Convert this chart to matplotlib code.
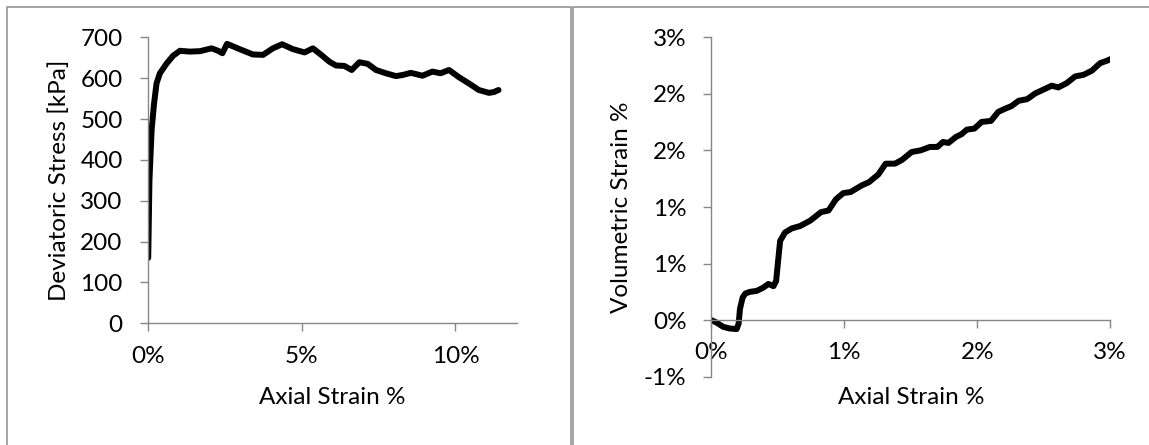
import matplotlib
matplotlib.use("Agg")
import matplotlib.pyplot as plt
from matplotlib.patches import Rectangle
from matplotlib.ticker import FixedLocator, FixedFormatter

# --- Deviatoric stress against axial strain (strain in %) ---
dev_axial_pct = [0.02, 0.06, 0.13, 0.21, 0.29, 0.40, 0.62, 0.83, 1.05,
                 1.37, 1.70, 2.08, 2.29, 2.43, 2.58, 2.99, 3.42, 3.75, 4.07,
                 4.37, 4.72, 5.10, 5.37, 5.64, 5.91, 6.12, 6.39, 6.63, 6.88,
                 7.15, 7.42, 7.74, 8.07, 8.30, 8.55, 8.93, 9.25, 9.52, 9.79,
                 10.12, 10.44, 10.76, 11.09, 11.25, 11.40]
dev_stress_kpa = [160, 350, 473, 538, 587, 612, 636, 655, 667,
                  665, 666, 673, 667, 661, 684, 671, 658, 657, 673,
                  683, 671, 663, 673, 657, 640, 631, 630, 620, 639,
                  635, 620, 612, 605, 608, 613, 606, 616, 612, 620,
                  602, 587, 571, 564, 566, 571]

# --- Volumetric strain against axial strain (both in %) ---
vol_axial_pct = [0.0, 0.038, 0.088, 0.138, 0.19, 0.205, 0.215, 0.235, 0.256,
                 0.29, 0.34, 0.39, 0.429, 0.467, 0.487, 0.504, 0.517, 0.554,
                 0.605, 0.668, 0.744, 0.825, 0.881, 0.936, 0.992, 1.047,
                 1.131, 1.186, 1.256, 1.311, 1.381, 1.436, 1.506, 1.575,
                 1.644, 1.700, 1.742, 1.783, 1.839, 1.881, 1.922, 1.978,
                 2.033, 2.103, 2.158, 2.214, 2.256, 2.311, 2.375, 2.436,
                 2.56, 2.61, 2.673, 2.736, 2.80, 2.862, 2.925, 2.976, 3.019]
vol_strain_pct = [0.0, -0.021, -0.059, -0.074, -0.079, -0.03, 0.10, 0.20, 0.236,
                  0.250, 0.258, 0.287, 0.320, 0.300, 0.347, 0.55, 0.70, 0.775,
                  0.811, 0.832, 0.880, 0.955, 0.969, 1.067, 1.123, 1.132,
                  1.191, 1.220, 1.288, 1.383, 1.383, 1.418, 1.486, 1.501,
                  1.531, 1.531, 1.575, 1.566, 1.619, 1.643, 1.684, 1.693,
                  1.752, 1.761, 1.841, 1.871, 1.891, 1.939, 1.953, 2.004,
                  2.072, 2.057, 2.095, 2.154, 2.169, 2.205, 2.272, 2.293, 2.316]

# --- Axis ticks and labels ---
dev_xticks = [0, 5, 10]
dev_xticklabels = ["0%", "5%", "10%"]
dev_yticks = [0, 100, 200, 300, 400, 500, 600, 700]
dev_yticklabels = ["0", "100", "200", "300", "400", "500", "600", "700"]
vol_xticks = [0, 1, 2, 3]
vol_xticklabels = ["0%", "1%", "2%", "3%"]
vol_yticks = [-0.5, 0.0, 0.5, 1.0, 1.5, 2.0, 2.5]
vol_yticklabels = ["-1%", "0%", "1%", "1%", "2%", "2%", "3%"]

W, H = 1149, 445
AXIS_GREY = "#868686"
BORDER_GREY = "#8c8c8c"
FONT_SIZE = 17.5

plt.rcParams["font.family"] = ["Lato", "DejaVu Sans"]
fig = plt.figure(figsize=(W / 100, H / 100), dpi=100)
fig.patch.set_facecolor("white")


def px_box(x0, y0, x1, y1):
    """Pixel box measured from the top-left corner -> figure fraction."""
    return [x0 / W, 1 - y1 / H, (x1 - x0) / W, (y1 - y0) / H]


def fpt(x, y):
    return x / W, 1 - y / H


# chart area frames
for (x0, x1) in [(7, 571), (572.5, 1160)]:
    fx, fy = fpt(x0, 470)
    fig.add_artist(Rectangle((fx, fy), (x1 - x0) / W, (470 - 7) / H,
                             transform=fig.transFigure, fill=False,
                             edgecolor=BORDER_GREY, linewidth=1.1,
                             clip_on=False))


def style_axes(ax):
    for side in ("top", "right"):
        ax.spines[side].set_visible(False)
    for side in ("left", "bottom"):
        ax.spines[side].set_color(AXIS_GREY)
        ax.spines[side].set_linewidth(1.0)
    ax.tick_params(axis="both", direction="out", length=6, width=1.0,
                   color=AXIS_GREY, labelcolor="black", labelsize=FONT_SIZE)
    ax.tick_params(axis="y", pad=12)
    ax.tick_params(axis="x", pad=10)
    ax.set_facecolor("none")


line_kw = dict(color="black", linewidth=4.3, solid_capstyle="round",
               solid_joinstyle="round")

# left: deviatoric stress
ax1 = fig.add_axes(px_box(147.6, 37.3, 517, 323.3))
ax1.plot(dev_axial_pct, dev_stress_kpa, **line_kw)
ax1.set_xlim(0, 12)
ax1.set_ylim(0, 700)
ax1.xaxis.set_major_locator(FixedLocator(dev_xticks))
ax1.xaxis.set_major_formatter(FixedFormatter(dev_xticklabels))
ax1.yaxis.set_major_locator(FixedLocator(dev_yticks))
ax1.yaxis.set_major_formatter(FixedFormatter(dev_yticklabels))
style_axes(ax1)
ax1.set_xlabel("Axial Strain %", fontsize=FONT_SIZE)
ax1.set_ylabel("Deviatoric Stress [kPa]", fontsize=FONT_SIZE)
ax1.xaxis.set_label_coords(*fpt(332.3, 397), transform=fig.transFigure)
ax1.yaxis.set_label_coords(*fpt(59, 180.3), transform=fig.transFigure)
ax1.xaxis.label.set_va("center")
ax1.yaxis.label.set_va("center")

# right: volumetric strain
ax2 = fig.add_axes(px_box(711.4, 37.3, 1110.2, 376.7))
ax2.plot(vol_axial_pct, vol_strain_pct, **line_kw)
ax2.set_xlim(0, 3)
ax2.set_ylim(-0.5, 2.5)
ax2.spines["bottom"].set_position(("data", 0))
ax2.xaxis.set_major_locator(FixedLocator(vol_xticks))
ax2.xaxis.set_major_formatter(FixedFormatter(vol_xticklabels))
ax2.yaxis.set_major_locator(FixedLocator(vol_yticks))
ax2.yaxis.set_major_formatter(FixedFormatter(vol_yticklabels))
style_axes(ax2)
ax2.set_xlabel("Axial Strain %", fontsize=FONT_SIZE)
ax2.set_ylabel("Volumetric Strain %", fontsize=FONT_SIZE)
ax2.xaxis.set_label_coords(*fpt(910.8, 397), transform=fig.transFigure)
ax2.yaxis.set_label_coords(*fpt(621.7, 207), transform=fig.transFigure)
ax2.xaxis.label.set_va("center")
ax2.yaxis.label.set_va("center")

fig.savefig("out.png", dpi=100, facecolor="white")
